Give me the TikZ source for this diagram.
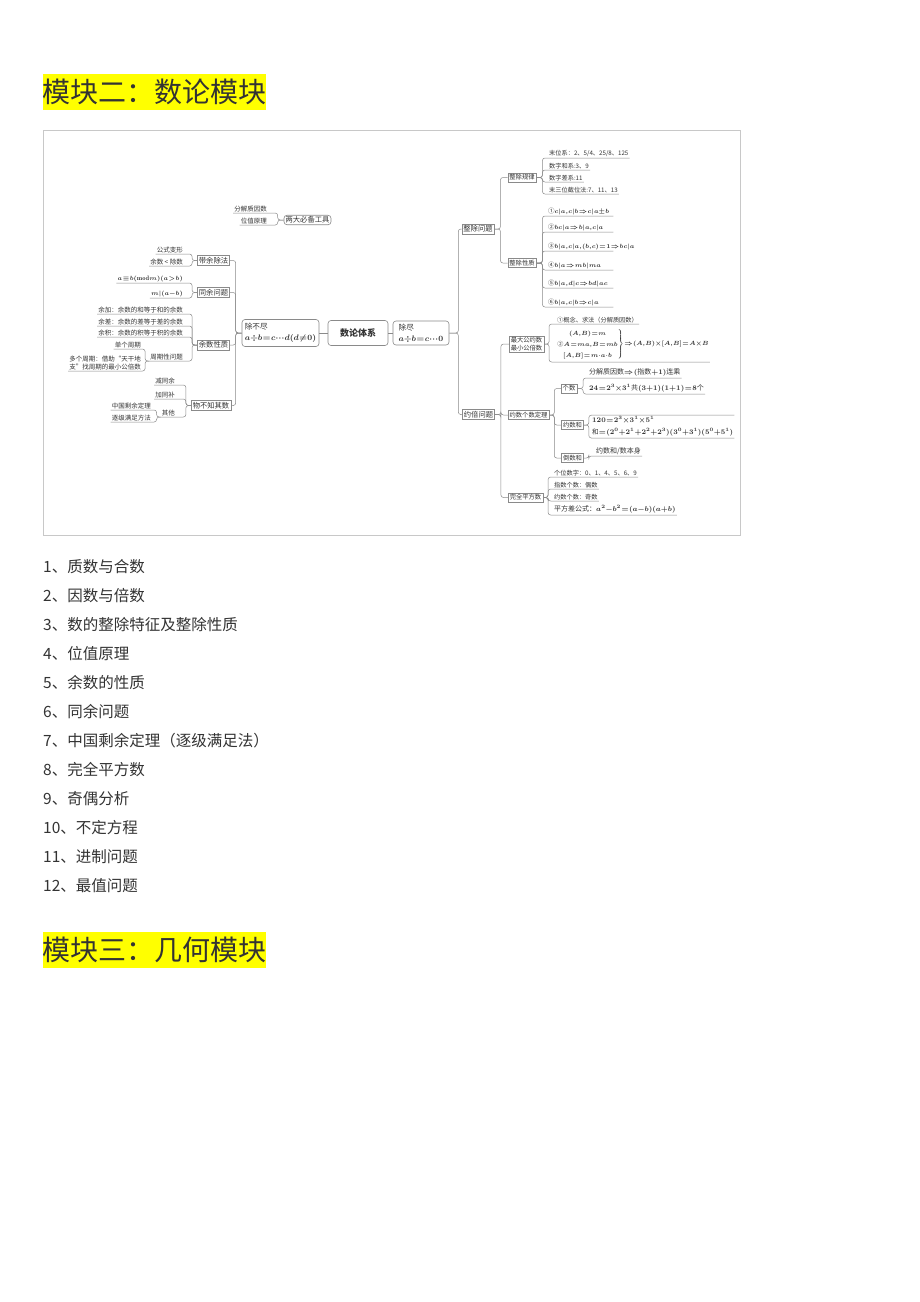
\documentclass[tikz,border=0pt]{standalone}
\usepackage{fontspec}
\usepackage{amsmath}
\newfontfamily\cjk{Noto Sans CJK SC}
\definecolor{tc}{HTML}{333333}
\definecolor{lc}{HTML}{8A8A8A}
\definecolor{fc}{HTML}{C8C8C8}
\definecolor{hy}{HTML}{FFFF00}
\newcommand\myfm[1]{{\medmuskip=0mu\thickmuskip=1mu\thinmuskip=0.5mu\boldmath$#1$}}
\tikzset{
  bx/.style={draw=lc, line width=0.5pt, inner xsep=1.6pt, inner ysep=1.4pt, text=tc, font=\cjk\fontsize{7.3}{8.5}\selectfont},
  sbx/.style={bx, font=\cjk\fontsize{6.3}{7.6}\selectfont},
  rbx/.style={bx, rounded corners=3pt, line width=0.6pt},
  lf/.style={inner xsep=1pt, inner ysep=1.2pt, text=tc, font=\cjk\fontsize{6.5}{7.5}\selectfont},
  slf/.style={lf, font=\cjk\fontsize{6.2}{7.2}\selectfont},
  lk/.style={draw=lc, line width=0.5pt, rounded corners=2.5pt},
  hd/.style={inner sep=0pt, text=tc, font=\cjk\fontsize{28}{30}\selectfont},
  li/.style={anchor=west, inner sep=0pt, text=tc, font=\cjk\fontsize{15.5}{18}\selectfont},
}
\begin{document}
\begin{tikzpicture}[x=1pt,y=-1pt]
\fill[white] (0,0) rectangle (920,1302);
\useasboundingbox (0,0) rectangle (920,1302);

% headings
\fill[hy] (43,74) rectangle (266,110);
\node[hd] (h1) at (154.5,92) {模块二：数论模块};
\fill[hy] (43,932) rectangle (266,968);
\node[hd] (h2) at (154.5,950) {模块三：几何模块};

% frame
\draw[fc, line width=0.7pt] (43,130) rectangle (740,535);

% ---------- centre ----------
\node[rbx, minimum width=77pt, minimum height=27pt, align=left, font=\cjk\fontsize{7.6}{11}\selectfont] (bj) at (280.5,333) {除不尽\\\myfm{a\div b=c\cdots d(d\neq0)}};
\node[rbx, minimum width=60pt, minimum height=25pt, font=\cjk\bfseries\fontsize{9}{10}\selectfont] (sl) at (358,333) {数论体系};
\node[rbx, minimum width=56pt, minimum height=24pt, align=left, font=\cjk\fontsize{7.6}{11}\selectfont] (jn) at (421,333) {除尽\\\myfm{a\div b=c\cdots 0}};
\draw[lk] (bj.east) -- (sl.west);
\draw[lk] (sl.east) -- (jn.west);

% ---------- tools ----------
\node[rbx] (tools) at (307.5,220) {两大必备工具};
\node[lf, anchor=south east] (fj) at (268,213) {分解质因数};
\node[lf, anchor=south east] (wz) at (268,225) {位值原理};
\draw[lk] (tools.west) -- ++(-6,0) |- (fj.south west);
\draw[lk] (tools.west) -- ++(-6,0) |- (wz.south west);

% ---------- left branch ----------
\node[bx] (dy) at (213.5,260.5) {带余除法};
\node[bx] (tyw) at (213.5,292.5) {同余问题};
\node[bx] (ysx) at (213.5,345) {余数性质};
\node[bx] (wbz) at (211,405.5) {物不知其数};
\foreach \c in {dy,tyw,ysx,wbz} \draw[lk] (bj.west) -- ++(-6,0) |- (\c.east);

\node[lf, anchor=south east] (gs) at (184,254) {公式变形};
\node[lf, anchor=south east] (yc) at (184,266) {余数 < 除数};
\foreach \c in {gs,yc} \draw[lk] (dy.west) -- ++(-5,0) |- (\c.south west);

\node[lf, anchor=south east] (f1) at (184,283) {\myfm{a\equiv b(\mathrm{mod}\,m)(a>b)}};
\node[lf, anchor=south east] (f2) at (184,298) {\myfm{m|(a-b)}};
\foreach \c in {f1,f2} \draw[lk] (tyw.west) -- ++(-5,0) |- (\c.south west);

\node[lf, anchor=south east] (yj) at (184,314) {余加：余数的和等于和的余数};
\node[lf, anchor=south east] (ycha) at (184,326) {余差：余数的差等于差的余数};
\node[lf, anchor=south east] (yji) at (184,337) {余积：余数的积等于积的余数};
\node[lf, anchor=south east] (zq) at (184,361) {周期性问题};
\foreach \c in {yj,ycha,yji,zq} \draw[lk] (ysx.west) -- ++(-5,0) |- (\c.south west);

\node[lf, anchor=south east] (dg) at (142,349) {单个周期};
\node[lf, anchor=south east, align=left] (dd) at (142,371) {多个周期：借助“天干地\\支”找周期的最小公倍数};
\foreach \c in {dg,dd} \draw[lk] (zq.south west) -- ++(-4,0) |- (\c.south west);

\node[lf, anchor=south east] (jt) at (176,385) {减同余};
\node[lf, anchor=south east] (jb) at (176,399) {加同补};
\node[lf, anchor=south east] (qt) at (176,417) {其他};
\foreach \c in {jt,jb,qt} \draw[lk] (wbz.west) -- ++(-5,0) |- (\c.south west);

\node[lf, anchor=south east] (zg) at (152,410) {中国剩余定理};
\node[lf, anchor=south east] (zj) at (152,422) {逐级满足方法};
\foreach \c in {zg,zj} \draw[lk] (qt.south west) -- ++(-4,0) |- (\c.south west);

% ---------- right branch ----------
\node[bx] (zc) at (478,229) {整除问题};
\node[bx] (yb) at (478.5,414.5) {约倍问题};
\foreach \c in {zc,yb} \draw[lk] (jn.east) -- ++(9,0) |- (\c.west);

\node[sbx] (gl) at (522,177.5) {整除规律};
\node[sbx] (xz) at (522,263) {整除性质};
\foreach \c in {gl,xz} \draw[lk] (zc.east) -- ++(6,0) |- (\c.west);

\node[slf, anchor=south west] (m1) at (548,158) {末位系：2、5/4、25/8、125};
\node[slf, anchor=south west] (m2) at (548,170) {数字和系:3、9};
\node[slf, anchor=south west] (m3) at (548,182) {数字差系:11};
\node[slf, anchor=south west] (m4) at (548,194) {末三位截位法:7、11、13};
\foreach \c in {m1,m2,m3,m4} \draw[lk] (gl.east) -- ++(6,0) |- (\c.south east);

\node[lf, anchor=south west] (p1) at (547,216) {\makebox[64pt][l]{①\myfm{c|a,c|b\Rightarrow c|a\pm b}}};
\node[lf, anchor=south west] (p2) at (547,232) {\makebox[64pt][l]{②\myfm{bc|a\Rightarrow b|a,c|a}}};
\node[lf, anchor=south west] (p3) at (547,251) {\makebox[64pt][l]{③\myfm{b|a,c|a,(b,c)=1\Rightarrow bc|a}}};
\node[lf, anchor=south west] (p4) at (547,270) {\makebox[64pt][l]{④\myfm{b|a\Rightarrow mb|ma}}};
\node[lf, anchor=south west] (p5) at (547,288) {\makebox[64pt][l]{⑤\myfm{b|a,d|c\Rightarrow bd|ac}}};
\node[lf, anchor=south west] (p6) at (547,307) {\makebox[64pt][l]{⑥\myfm{b|a,c|b\Rightarrow c|a}}};
\foreach \c in {p1,p2,p3,p4,p5,p6} \draw[lk] (xz.east) -- ++(6,0) |- (\c.south east);

\node[sbx, align=left] (gys) at (526.5,344) {最大公约数\\最小公倍数};
\node[sbx] (dl) at (528.5,415) {约数个数定理};
\node[sbx] (wp) at (525.5,497.5) {完全平方数};
\foreach \c in {gys,dl,wp} \draw[lk] (yb.east) -- ++(6,0) |- (\c.west);

\node[slf, anchor=south west] (q1) at (556,324) {①概念、求法（分解质因数）};
\node[lf, anchor=south west, font=\cjk\fontsize{6.1}{10.8}\selectfont] (q2) at (555,362)
  {\myfm{\left.\begin{array}{@{}c@{}}(A,B)=m\\ \text{\cjk ②}\,A=ma,B=mb\\ {[A,B]}=m\cdot a\cdot b\end{array}\right\}\Rightarrow(A,B)\times[A,B]=A\times B}};
\foreach \c in {q1,q2} \draw[lk] (gys.east) -- ++(5,0) |- (\c.south east);

\node[sbx] (gsn) at (569,388.5) {个数};
\node[sbx] (yh) at (572.5,425) {约数和};
\node[sbx] (ds) at (572.5,458) {倒数和};
\foreach \c in {gsn,yh,ds} \draw[lk] (dl.east) -- ++(5,0) |- (\c.west);

\node[lf, anchor=south west, font=\cjk\fontsize{7}{8}\selectfont] (r1) at (588,378) {分解质因数\myfm{\Rightarrow(}指数\myfm{+1)}连乘};
\node[lf, anchor=south west, font=\cjk\fontsize{7}{8}\selectfont] (r2) at (588,394) {\myfm{24=2^3\times3^1}共\myfm{(3+1)(1+1)=8}个};
\foreach \c in {r1,r2} \draw[lk] (gsn.east) -- ++(6,0) |- (\c.south east);

\node[lf, anchor=south west, align=left, font=\cjk\fontsize{6.6}{12}\selectfont] (sf) at (591,438)
  {\myfm{120=2^3\times3^1\times5^1}\\和\myfm{=(2^0+2^1+2^2+2^3)(3^0+3^1)(5^0+5^1)}};
\draw[lk] (yh.east) -- ++(5,0) |- (sf.south east);
\draw[lk] (yh.east) -- ++(5,0) |- (sf.north east);

\node[lf, anchor=south west, font=\cjk\fontsize{7}{8}\selectfont] (t1) at (595,456) {约数和/数本身};
\draw[lk] (ds.east) -- ++(5,0) |- (t1.south east);

\node[slf, anchor=south west] (s1) at (553,477) {个位数字：0、1、4、5、6、9};
\node[slf, anchor=south west] (s2) at (553,489) {指数个数：偶数};
\node[slf, anchor=south west] (s3) at (553,501) {约数个数：奇数};
\node[lf, anchor=south west, font=\cjk\fontsize{7}{8}\selectfont] (s4) at (553,515) {平方差公式：\myfm{a^2-b^2=(a-b)(a+b)}};
\foreach \c in {s1,s2,s3,s4} \draw[lk] (wp.east) -- ++(5,0) |- (\c.south east);

% ---------- list ----------
\node[li] (l1) at (43,567) {1、质数与合数};
\node[li] (l2) at (43,596) {2、因数与倍数};
\node[li] (l3) at (43,625) {3、数的整除特征及整除性质};
\node[li] (l4) at (43,654) {4、位值原理};
\node[li] (l5) at (43,683) {5、余数的性质};
\node[li] (l6) at (43,712) {6、同余问题};
\node[li] (l7) at (43,741) {7、中国剩余定理（逐级满足法）};
\node[li] (l8) at (43,770) {8、完全平方数};
\node[li] (l9) at (43,799) {9、奇偶分析};
\node[li] (l10) at (43,828) {10、不定方程};
\node[li] (l11) at (43,857) {11、进制问题};
\node[li] (l12) at (43,886) {12、最值问题};
\end{tikzpicture}
\end{document}
